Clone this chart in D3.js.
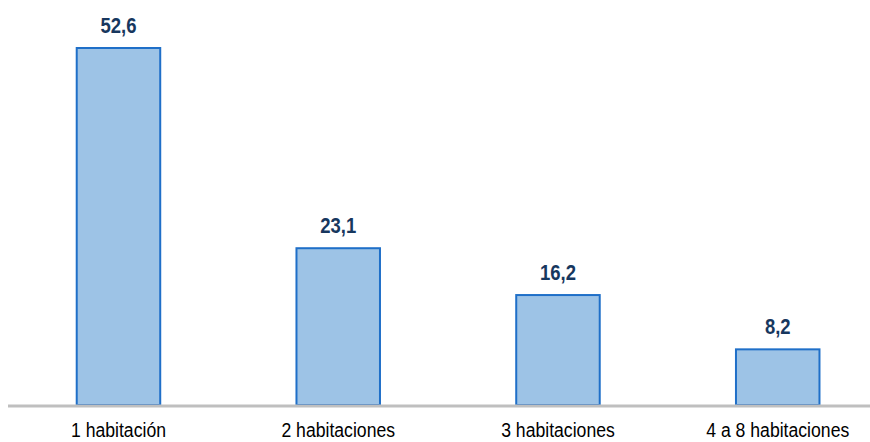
<!DOCTYPE html>
<html>
<head>
<meta charset="utf-8">
<script src="https://cdn.jsdelivr.net/npm/d3@7"></script>
<style>
  body { margin: 0; background: #fff; }
  .cat-label { font-family: "Liberation Sans Narrow", "Liberation Sans", Arial, sans-serif; font-size: 21px; fill: #000; }
  .val-label { font-family: "Liberation Sans Narrow", "Liberation Sans", Arial, sans-serif; font-size: 22px; font-weight: bold; fill: #17375e; }
</style>
</head>
<body>
<svg width="870" height="442"></svg>
<script>
// categories and values
var categories = ["1 habitación", "2 habitaciones", "3 habitaciones", "4 a 8 habitaciones"];
var values = [52.6, 23.1, 16.2, 8.2];

function render_bars()
{
    let svg = d3.select("svg");
    let baseline = 405;
    let narrow = 0.84;   // no narrow font installed, squeeze the text instead

    let x = d3.scaleBand()
        .domain(categories)
        .range([8.6, 887.6])
        .paddingInner(0.62)
        .paddingOuter(0.31);

    let y = d3.scaleLinear()
        .domain([0, 52.6])
        .range([baseline, 48]);

    let data = categories.map((c, i) => ({ name: c, value: values[i] }));

    svg.selectAll("rect.bar")
        .data(data)
        .enter()
        .append("rect")
            .attr("class", "bar")
            .attr("x", d => x(d.name))
            .attr("y", d => y(d.value))
            .attr("width", x.bandwidth())
            .attr("height", d => baseline - y(d.value))
            .style("fill", "#9dc3e6")
            .style("stroke", "#1f6fc8")
            .style("stroke-width", 2);

    // axis line
    svg.append("line")
        .attr("x1", 8)
        .attr("x2", 870)
        .attr("y1", baseline + 1)
        .attr("y2", baseline + 1)
        .style("stroke", "#bfbfbf")
        .style("stroke-width", 3);

    svg.selectAll("text.val-label")
        .data(data)
        .enter()
        .append("text")
            .attr("class", "val-label")
            .attr("text-anchor", "middle")
            .attr("transform", d => {
                let cx = x(d.name) + x.bandwidth() / 2;
                return `translate(${cx},${y(d.value) - 15}) scale(${narrow},1)`;
            })
            .text(d => d3.format(".1f")(d.value).replace(".", ","));

    svg.selectAll("text.cat-label")
        .data(data)
        .enter()
        .append("text")
            .attr("class", "cat-label")
            .attr("text-anchor", "middle")
            .attr("transform", d => {
                let cx = x(d.name) + x.bandwidth() / 2;
                return `translate(${cx},437) scale(${narrow},1)`;
            })
            .text(d => d.name);
}

render_bars();
</script>
</body>
</html>
